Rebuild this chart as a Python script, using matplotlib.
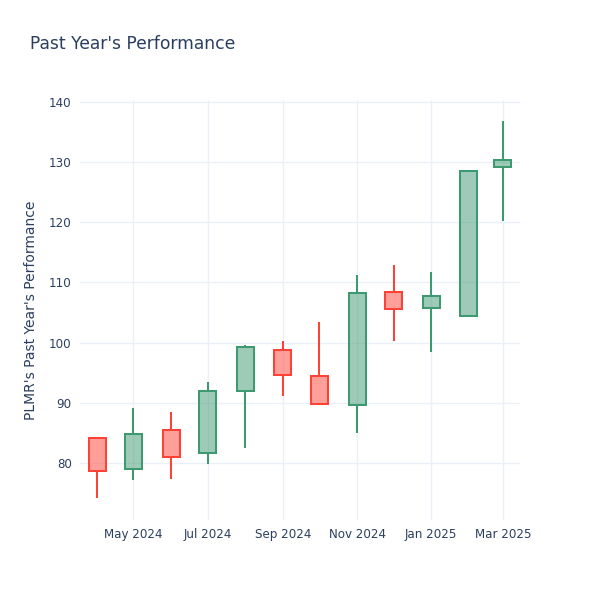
import matplotlib
matplotlib.use("Agg")
import matplotlib.pyplot as plt
import matplotlib.dates as mdates
import numpy as np
import pandas as pd

# monthly candles
months = pd.date_range("2024-04-01", "2025-03-01", freq="MS")
opens = [84.1, 78.9, 85.5, 81.7, 91.9, 98.7, 94.4, 89.6, 108.4, 105.8, 104.4, 129.2]
highs = [84.1, 89.1, 88.4, 93.4, 99.6, 100.3, 103.4, 111.2, 112.9, 111.8, 128.6, 136.9]
lows = [74.1, 77.2, 77.3, 79.8, 82.5, 91.1, 89.7, 85.0, 100.3, 98.4, 104.4, 120.3]
closes = [78.7, 84.8, 81.0, 92.0, 99.2, 94.6, 89.8, 108.3, 105.6, 107.8, 128.6, 130.4]

y_ticks = [80, 90, 100, 110, 120, 130, 140]

UP = "#3D9970"
DOWN = "#FF4136"
TEXT = "#2a3f5f"
GRID = "#EBF0F8"

plt.rcParams["font.family"] = ["DejaVu Sans"]

fig = plt.figure(figsize=(6, 6), dpi=100)
ax = fig.add_axes([80 / 600, 80 / 600, 440 / 600, 420 / 600])

x = mdates.date2num(months)
o = np.array(opens)
c = np.array(closes)
body_lo = np.minimum(o, c)
body_hi = np.maximum(o, c)
colors = [UP if cc >= oo else DOWN for oo, cc in zip(o, c)]
lw = 1.45

# wicks only outside the body so they don't show through the fill
ax.vlines(x, lows, body_lo, colors=colors, linewidth=lw, zorder=2)
ax.vlines(x, body_hi, highs, colors=colors, linewidth=lw, zorder=2)
ax.bar(x, body_hi - body_lo, bottom=body_lo, width=14,
       color=[matplotlib.colors.to_rgba(col, 0.5) for col in colors],
       edgecolor=colors, linewidth=lw, zorder=3)

ax.set_xlim(mdates.date2num(pd.Timestamp("2024-03-18")), mdates.date2num(pd.Timestamp("2025-03-15")))
ax.set_ylim(70.5, 140.35)
ax.set_yticks(y_ticks)
ax.xaxis.set_major_locator(mdates.MonthLocator(bymonth=[1, 3, 5, 7, 9, 11]))
ax.xaxis.set_major_formatter(mdates.DateFormatter("%b %Y"))

ax.grid(True, color=GRID, linewidth=1, zorder=0)
ax.set_axisbelow(True)
for s in ax.spines.values():
    s.set_visible(False)
ax.tick_params(length=0, labelsize=8.6, colors=TEXT, pad=6)

ax.set_ylabel("PLMR's Past Year's Performance", fontsize=10, color=TEXT, labelpad=8)
fig.text(30 / 600, 1 - 44 / 600, "Past Year's Performance", fontsize=12.3, color=TEXT,
         ha="left", va="center")

fig.savefig("out.png", dpi=100, facecolor="white")
